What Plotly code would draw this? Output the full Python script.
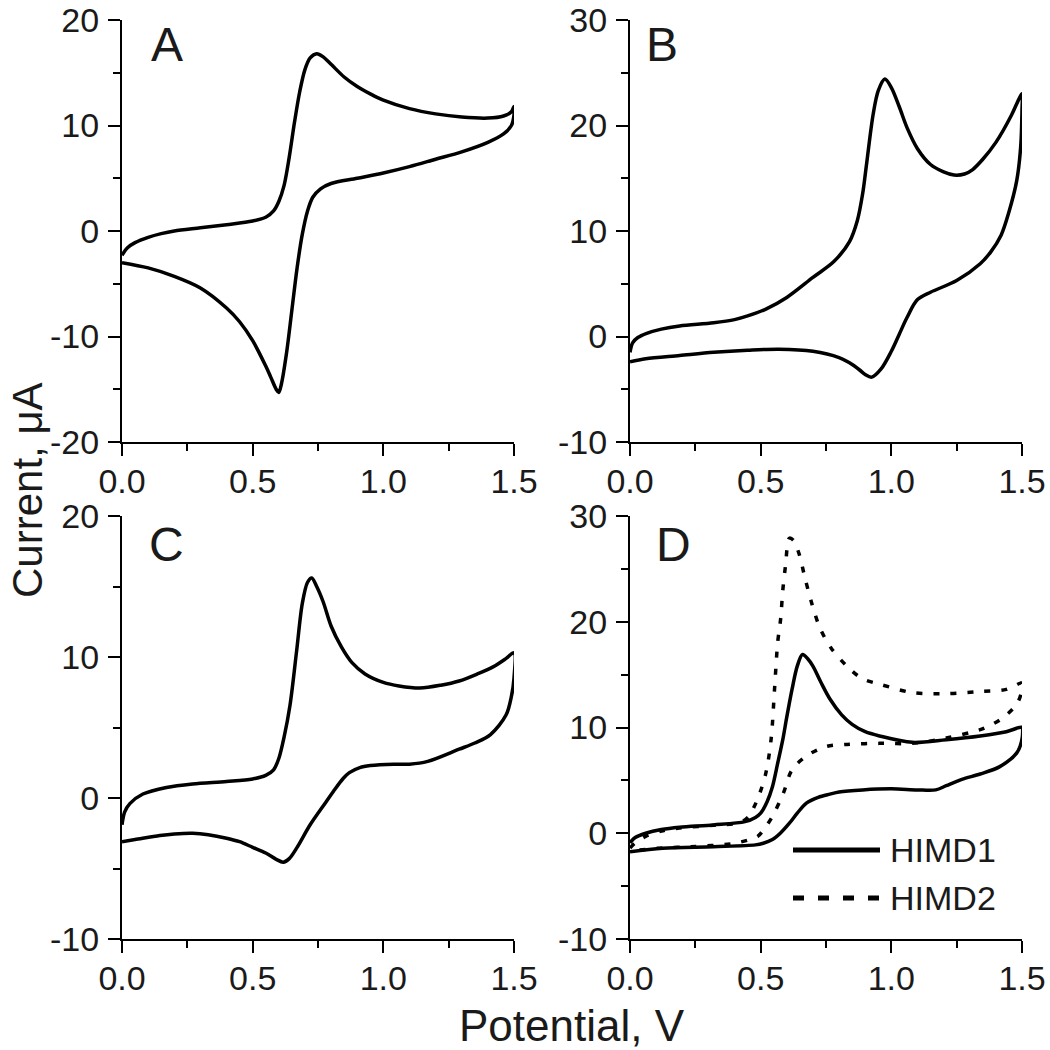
import plotly.graph_objects as go

# ---- data ----
# Panel A: single CV loop, forward scan then reverse scan
a_potential = [0.00, 0.02, 0.05, 0.10, 0.15, 0.20, 0.30, 0.40, 0.50, 0.55, 0.58, 0.60, 0.62, 0.64,
               0.66, 0.68, 0.70, 0.72, 0.745, 0.77, 0.80, 0.85, 0.90, 0.95, 1.00, 1.10, 1.20, 1.30,
               1.40, 1.46, 1.49, 1.50,
               1.50, 1.49, 1.46, 1.40, 1.30, 1.20, 1.10, 1.00, 0.90, 0.80, 0.76, 0.73, 0.71, 0.69,
               0.67, 0.65, 0.63, 0.61, 0.60, 0.59, 0.57, 0.55, 0.50, 0.45, 0.40, 0.30, 0.20, 0.10, 0.00]
a_current = [-2.3, -1.6, -1.1, -0.6, -0.25, 0.0, 0.3, 0.6, 0.95, 1.3, 1.9, 2.8, 4.3, 7.0,
             10.3, 13.2, 15.3, 16.4, 16.8, 16.5, 15.8, 14.6, 13.7, 13.0, 12.4, 11.6, 11.1, 10.8,
             10.7, 10.9, 11.3, 11.8,
             11.0, 10.0, 9.2, 8.4, 7.5, 6.8, 6.1, 5.5, 5.0, 4.5, 4.0, 3.2, 1.9, -0.3,
             -3.5, -7.5, -11.5, -14.5, -15.3, -15.0, -13.9, -12.8, -10.4, -8.6, -7.3, -5.4, -4.3, -3.5, -3.0]

# Panel B
b_potential = [0.00, 0.01, 0.03, 0.064, 0.12, 0.19, 0.32, 0.40, 0.45, 0.52, 0.60, 0.70, 0.78, 0.84,
               0.87, 0.89, 0.906, 0.93, 0.95, 0.975, 1.00, 1.03, 1.06, 1.10, 1.15, 1.20, 1.24, 1.28,
               1.31, 1.35, 1.40, 1.46, 1.49, 1.50,
               1.50, 1.495, 1.48, 1.45, 1.42, 1.38, 1.34, 1.25, 1.15, 1.10, 1.06, 1.03, 1.00, 0.96,
               0.925, 0.90, 0.88, 0.84, 0.80, 0.70, 0.57, 0.45, 0.32, 0.19, 0.06, 0.00]
b_current = [-1.5, -0.6, -0.1, 0.3, 0.7, 1.0, 1.3, 1.6, 1.95, 2.6, 3.7, 5.6, 7.1, 9.0,
             11.0, 13.5, 16.5, 21.0, 23.3, 24.4, 23.6, 21.8, 19.8, 17.8, 16.3, 15.6, 15.3, 15.4,
             15.8, 16.8, 18.4, 21.0, 22.6, 23.0,
             21.5, 18.0, 14.8, 11.8, 9.6, 8.0, 6.9, 5.3, 4.2, 3.5, 1.8, 0.2, -1.4, -3.1,
             -3.85, -3.6, -3.2, -2.5, -2.0, -1.4, -1.2, -1.3, -1.5, -1.8, -2.1, -2.4]

# Panel C
c_potential = [0.00, 0.01, 0.03, 0.08, 0.17, 0.27, 0.40, 0.50, 0.55, 0.58, 0.60, 0.62, 0.643, 0.668,
               0.69, 0.71, 0.726, 0.745, 0.77, 0.80, 0.84, 0.88, 0.93, 1.00, 1.06, 1.14, 1.22,
               1.29, 1.36, 1.42, 1.47, 1.50,
               1.50, 1.49, 1.47, 1.41, 1.35, 1.29, 1.17, 1.10, 1.04, 0.95, 0.91, 0.87, 0.847, 0.81,
               0.78, 0.72, 0.67, 0.64, 0.617, 0.59, 0.55, 0.50, 0.45, 0.40, 0.33, 0.27, 0.20,
               0.145, 0.05, 0.00]
c_current = [-1.9, -1.0, -0.4, 0.28, 0.75, 1.0, 1.17, 1.35, 1.6, 2.0, 2.8, 4.3, 6.6, 10.4,
             13.8, 15.3, 15.6, 15.0, 13.9, 12.2, 10.7, 9.6, 8.8, 8.2, 7.95, 7.8, 8.0,
             8.3, 8.8, 9.3, 9.9, 10.3,
             8.5, 7.2, 5.9, 4.5, 3.9, 3.46, 2.6, 2.4, 2.4, 2.3, 2.16, 1.8, 1.4, 0.5,
             -0.3, -1.9, -3.5, -4.3, -4.55, -4.35, -3.9, -3.5, -3.1, -2.85, -2.6, -2.5, -2.55,
             -2.66, -2.95, -3.1]

# Panel D, two compounds
himd1_potential = [0.00, 0.02, 0.06, 0.12, 0.19, 0.32, 0.44, 0.48, 0.50, 0.525, 0.545, 0.565, 0.585,
                   0.60, 0.62, 0.64, 0.66, 0.68, 0.70, 0.73, 0.765, 0.81, 0.85, 0.90, 0.955, 1.08,
                   1.21, 1.34, 1.44, 1.49, 1.50,
                   1.50, 1.48, 1.415, 1.34, 1.27, 1.21, 1.17, 1.10, 1.00, 0.89, 0.80, 0.765, 0.72,
                   0.675, 0.64, 0.61, 0.575, 0.545, 0.51, 0.48, 0.32, 0.125, 0.00]
himd1_current = [-0.9, -0.4, 0.0, 0.35, 0.57, 0.79, 1.1, 1.5, 1.9, 3.0, 4.4, 6.6, 8.9,
                 11.0, 13.6, 15.8, 16.9, 16.5, 15.8, 14.3, 12.7, 11.2, 10.3, 9.6, 9.2, 8.6,
                 8.85, 9.2, 9.6, 10.0, 10.0,
                 8.9, 7.6, 6.3, 5.6, 5.1, 4.5, 4.1, 4.1, 4.2, 4.1, 3.9, 3.7, 3.4,
                 2.85, 1.9, 0.95, 0.0, -0.6, -0.95, -1.1, -1.27, -1.42, -1.75]

himd2_potential = [0.00, 0.02, 0.06, 0.12, 0.19, 0.32, 0.42, 0.455, 0.475, 0.494, 0.52, 0.54, 0.553,
                   0.565, 0.577, 0.584, 0.595, 0.61, 0.625, 0.646, 0.67, 0.696, 0.727, 0.77, 0.83,
                   0.89, 0.955, 1.08, 1.21, 1.34, 1.44, 1.494, 1.50,
                   1.50, 1.48, 1.42, 1.37, 1.34, 1.21, 1.08, 0.955, 0.83, 0.75, 0.675, 0.62, 0.587,
                   0.545, 0.51, 0.488, 0.40, 0.233, 0.105, 0.03, 0.00]
himd2_current = [-1.4, -0.9, -0.3, 0.2, 0.5, 0.75, 1.0, 1.6, 2.5, 3.6, 5.7, 8.9, 13.6,
                 18.0, 20.4, 22.8, 25.3, 27.9, 27.7, 26.5, 24.1, 21.7, 19.4, 17.5, 15.8,
                 14.6, 14.1, 13.3, 13.2, 13.4, 13.6, 14.2, 14.2,
                 13.6, 12.2, 10.8, 10.1, 9.8, 9.0, 8.5, 8.5, 8.4, 8.2, 7.3, 6.0, 3.8,
                 1.6, 0.3, -0.3, -0.95, -1.27, -1.42, -1.6, -1.65]

y_ranges = {"A": [-20, 20], "B": [-10, 30], "C": [-10, 20], "D": [-10, 30]}
panel_labels = ["A", "B", "C", "D"]
legend_names = ["HIMD1", "HIMD2"]
x_tickvals = [0.0, 0.5, 1.0, 1.5]
x_ticktext = ["0.0", "0.5", "1.0", "1.5"]
y_tickvals = [-20, -10, 0, 10, 20, 30]
y_ticktext = ["-20", "-10", "0", "10", "20", "30"]

FONT = "Arial, 'Liberation Sans', sans-serif"
INK = "#000000"
TEXT = "#1a1a1a"

W = H = 1050
# plot boxes in pixels: (left, right), (top, bottom)
cols = [(122, 514), (630, 1022)]
rows = [(20, 442), (516, 939)]


def xdom(c):
    return [c[0] / W, c[1] / W]


def ydom(r):
    return [(H - r[1]) / H, (H - r[0]) / H]


def curve(x, y, xa, ya, dash="solid"):
    return go.Scatter(
        x=x, y=y, xaxis=xa, yaxis=ya, mode="lines",
        line=dict(color=INK, width=3.5, dash=dash, shape="spline", smoothing=0.9),
        showlegend=False, hoverinfo="skip",
    )


fig = go.Figure()
fig.add_trace(curve(a_potential, a_current, "x", "y"))
fig.add_trace(curve(b_potential, b_current, "x2", "y2"))
fig.add_trace(curve(c_potential, c_current, "x3", "y3"))
fig.add_trace(curve(himd1_potential, himd1_current, "x4", "y4"))
fig.add_trace(curve(himd2_potential, himd2_current, "x4", "y4", dash="6px,11px"))

xstyle = dict(
    range=[0, 1.5], tickmode="array", tickvals=x_tickvals, ticktext=x_ticktext,
    showline=True, linecolor=INK, linewidth=2, automargin=False,
    ticks="outside", ticklen=12, tickwidth=2, tickcolor=INK, ticklabelstandoff=-4,
    ticklabeloverflow="allow",
    minor=dict(dtick=0.25, tick0=0, ticks="outside", ticklen=7, tickwidth=2, tickcolor=INK),
    showgrid=False, zeroline=False,
    tickfont=dict(family=FONT, size=34, color=TEXT),
)
ystyle = dict(
    tickmode="array", tickvals=y_tickvals, ticktext=y_ticktext,
    showline=True, linecolor=INK, linewidth=2, automargin=False,
    ticks="outside", ticklen=12, tickwidth=2, tickcolor=INK, ticklabelstandoff=2,
    ticklabeloverflow="allow",
    minor=dict(dtick=5, tick0=0, ticks="outside", ticklen=7, tickwidth=2, tickcolor=INK),
    showgrid=False, zeroline=False,
    tickfont=dict(family=FONT, size=34, color=TEXT),
)

layout = dict(
    width=W, height=H,
    margin=dict(l=0, r=0, t=0, b=0, autoexpand=False),
    paper_bgcolor="white", plot_bgcolor="white",
    showlegend=False,
    font=dict(family=FONT, color=TEXT),
)
boxes = [(cols[0], rows[0]), (cols[1], rows[0]), (cols[0], rows[1]), (cols[1], rows[1])]
for i, (lab, (c, r)) in enumerate(zip(panel_labels, boxes)):
    sfx = "" if i == 0 else str(i + 1)
    layout["xaxis" + sfx] = dict(xstyle, domain=xdom(c), anchor="y" + sfx)
    layout["yaxis" + sfx] = dict(ystyle, domain=ydom(r), anchor="x" + sfx, range=y_ranges[lab])
fig.update_layout(**layout)

# panel letters
letter_pos = [(167, 45), (662, 45), (166, 545), (673, 545)]
for lab, (px, py) in zip(panel_labels, letter_pos):
    fig.add_annotation(x=px / W, y=(H - py) / H, xref="paper", yref="paper", text=lab,
                       showarrow=False, font=dict(family=FONT, size=48, color=TEXT),
                       xanchor="center", yanchor="middle")

# axis titles
fig.add_annotation(x=572 / W, y=(H - 1025) / H, xref="paper", yref="paper", text="Potential, V",
                   showarrow=False, font=dict(family=FONT, size=44, color=TEXT),
                   xanchor="center", yanchor="middle")
fig.add_annotation(x=27 / W, y=(H - 490) / H, xref="paper", yref="paper", text="Current, μA",
                   showarrow=False, textangle=-90, font=dict(family=FONT, size=42, color=TEXT),
                   xanchor="center", yanchor="middle")

# legend for panel D (drawn in paper space)
leg_y = [850, 898]
leg_dash = ["solid", "11px,14px"]
leg_w = [5, 5]
for name, py, dash, lw in zip(legend_names, leg_y, leg_dash, leg_w):
    fig.add_shape(type="line", xref="paper", yref="paper",
                  x0=793 / W, x1=880 / W, y0=(H - py) / H, y1=(H - py) / H,
                  line=dict(color=INK, width=lw, dash=dash))
    fig.add_annotation(x=888 / W, y=(H - py) / H, xref="paper", yref="paper", text=name,
                       showarrow=False, font=dict(family=FONT, size=34, color=TEXT),
                       xanchor="left", yanchor="middle")

# the page body has a default 8px margin; drop it so the figure fills the window
fig.write_html("out.html", config={"displayModeBar": False},
               post_script="document.body.style.margin='0px';")
